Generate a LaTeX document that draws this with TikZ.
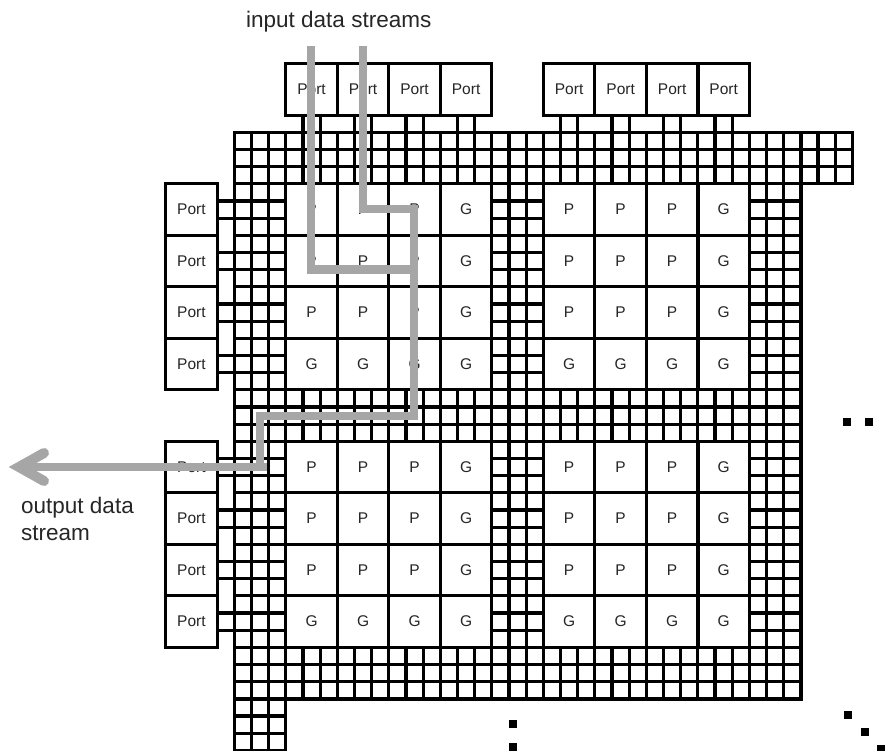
\documentclass[tikz,border=0pt]{standalone}
\usepackage{fontspec}
\setmainfont{Liberation Sans}
\usetikzlibrary{calc}
\definecolor{route}{HTML}{A6A6A6}
\definecolor{ink}{HTML}{262626}
\tikzset{
  gridline/.style={line width=3.2pt,black,line cap=rect},
  cellbox/.style={draw=black,line width=3.2pt,fill=white,minimum size=51.5pt,inner sep=0pt,outer sep=0pt,
    font=\fontsize{15.5}{18}\selectfont,text=ink},
  link/.style={line width=3.2pt,black},
  routeline/.style={draw=route,line width=8.5pt,line join=miter},
  routetip/.style={draw=route,line width=10pt,line cap=round,line join=miter},
  caption/.style={font=\fontsize{22.5}{27}\selectfont,text=ink,inner sep=0pt,align=left},
  dot/.style={fill=black,minimum size=8pt,inner sep=0pt,outer sep=0pt}
}
\newcommand{\gridblock}[4]{% x0,y0,x1,y1 in grid units
  \foreach \gx in {#1,...,#3} {\draw[gridline] (\gx,#2) -- (\gx,#4);}
  \foreach \gy in {#2,...,#4} {\draw[gridline] (#1,\gy) -- (#3,\gy);}
}
\begin{document}
\begin{tikzpicture}[x=1pt,y=-1pt]
\useasboundingbox (0,0) rectangle (886,751);
\clip (0,0) rectangle (886,751);
\begin{scope}[shift={(234.3,132.3)},x=17.17pt,y=-17.17pt]
  \gridblock{0}{0}{36}{3}
  \gridblock{0}{3}{3}{36}
  \gridblock{15}{3}{18}{33}
  \gridblock{30}{3}{33}{33}
  \gridblock{0}{15}{33}{18}
  \gridblock{0}{30}{33}{33}
  \coordinate (gridtop) at (0,0);
  \coordinate (gridleft) at (0,0);
  % processing cells
  \foreach \r/\ry/\a in {1/4.5/P,2/7.5/P,3/10.5/P,4/13.5/G,5/19.5/P,6/22.5/P,7/25.5/P,8/28.5/G} {
    \foreach \c/\cx/\s in {1/4.5/0,2/7.5/0,3/10.5/0,4/13.5/1,5/19.5/0,6/22.5/0,7/25.5/0,8/28.5/1} {
      \ifnum\s=1
        \node[cellbox] (c\r\c) at (\cx,\ry) {G};
      \else
        \node[cellbox] (c\r\c) at (\cx,\ry) {\a};
      \fi
    }
  }
  % ports
  \foreach \i/\cx in {1/4.5,2/7.5,3/10.5,4/13.5,5/19.5,6/22.5,7/25.5,8/28.5} {
    \node[cellbox] (t\i) at (\cx,-2.5) {Port};
    \coordinate (ta) at ($(t\i.south)+(-.5,0)$);
    \coordinate (tb) at ($(t\i.south)+(.5,0)$);
    \draw[link] (ta) -- (ta |- gridtop);
    \draw[link] (tb) -- (tb |- gridtop);
  }
  \foreach \i/\ry in {1/4.5,2/7.5,3/10.5,4/13.5,5/19.5,6/22.5,7/25.5,8/28.5} {
    \node[cellbox] (l\i) at (-2.5,\ry) {Port};
    \coordinate (la) at ($(l\i.east)+(0,-.5)$);
    \coordinate (lb) at ($(l\i.east)+(0,.5)$);
    \draw[link] (la) -- (la -| gridleft);
    \draw[link] (lb) -- (lb -| gridleft);
  }
\end{scope}
% routed streams
\coordinate (in1) at (311,46);
\coordinate (in2) at (363,46);
\coordinate (j1) at (311,269.5);
\coordinate (j2) at (363,209);
\coordinate (j3) at (414,209);
\coordinate (j4) at (414,416);
\coordinate (j5) at (260,416);
\coordinate (j6) at (260,467);
\coordinate (e1) at (267,467);
\coordinate (tip) at (19,467);
\coordinate (w1) at (44,453);
\coordinate (w2) at (44,481);
\draw[routeline] (in1) -- (j1) -- (j1 -| j3);
\draw[routeline] (in2) -- (j2) -- (j3) -- (j4) -- (j5) -- (j6);
\draw[routeline] (e1) -- (tip);
\draw[routetip] (w1) -- (tip) -- (w2);
% labels
\node[caption,anchor=base west] (inlabel) at (246,27.5) {input data streams};
\node[caption,anchor=base west] (outlabel1) at (21,513) {output data};
\node[caption,anchor=base west] (outlabel2) at (21,540) {stream};
% continuation dots
\foreach \n/\x/\y in {a/847/422,b/869/422,c/512.7/724,d/512.7/747,e/848/715,f/864.5/732,g/881/749} {
  \node[dot] (dot\n) at (\x,\y) {};
}
\end{tikzpicture}
\end{document}
